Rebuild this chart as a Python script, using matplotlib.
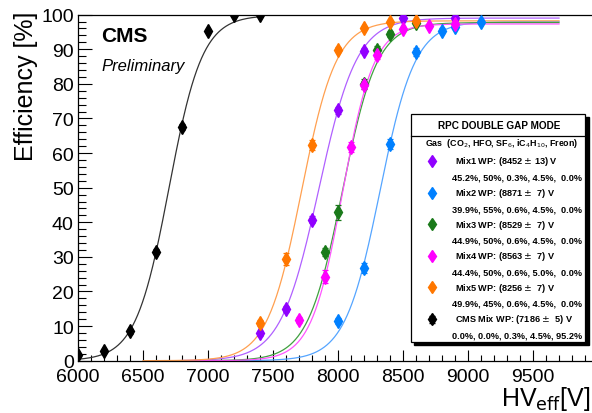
import matplotlib.pyplot as plt
from matplotlib.patches import Rectangle
import numpy as np

plt.rcParams['font.family'] = ['Liberation Sans', 'DejaVu Sans']

# measured points (HV_eff [V], efficiency [%])
hv_mix1 = [7400, 7600, 7800, 8000, 8200, 8500, 8900]
eff_mix1 = [7.9, 14.9, 40.8, 72.3, 89.6, 99.0, 99.0]
hv_mix2 = [8000, 8200, 8400, 8600, 8800, 8900, 9100]
eff_mix2 = [11.4, 26.8, 62.6, 89.1, 95.4, 96.4, 98.0]
hv_mix3 = [7900, 8000, 8200, 8300, 8400, 8600]
eff_mix3 = [31.5, 42.9, 80.0, 89.9, 94.4, 97.6]
hv_mix4 = [7700, 7900, 8100, 8200, 8300, 8500, 8700, 8900]
eff_mix4 = [11.8, 24.3, 61.7, 79.6, 88.2, 95.9, 96.8, 97.3]
hv_mix5 = [7400, 7600, 7800, 8000, 8200, 8400, 8600]
eff_mix5 = [10.9, 29.4, 62.4, 89.9, 96.2, 98.0, 98.1]
hv_cms = [6000, 6200, 6400, 6600, 6800, 7000, 7200, 7400]
eff_cms = [1.6, 2.8, 8.5, 31.5, 67.5, 95.4, 99.8, 99.8]
err_mix1 = [0.8, 0.8, 1.0, 1.0, 0.8, 0.5, 0.5]
err_mix2 = [0.8, 1.5, 1.5, 1.2, 0.8, 0.6, 0.5]
err_mix3 = [1.2, 2.2, 1.5, 1.0, 0.8, 0.5]
err_mix4 = [0.8, 1.8, 1.5, 1.2, 1.0, 0.6, 0.5, 0.5]
err_mix5 = [1.0, 1.8, 1.5, 0.8, 0.5, 0.5, 0.5]
err_cms = [0.5, 0.5, 0.8, 0.8, 0.8, 0.5, 0.3, 0.3]

# sigmoid fit parameters: eff_max, lambda, HV50, fit range
fit_emax = [99.0, 98.0, 97.7, 97.3, 98.2, 99.8]
fit_lambda = [0.0068, 0.0074, 0.0075, 0.0083, 0.0075, 0.0078]
fit_hv50 = [7852, 8323, 8033, 8035, 7720, 6700]
fit_lo = [6800, 6800, 6800, 6800, 6500, 6000]
fit_hi = [9700, 9700, 9700, 9700, 9700, 7400]

colors = ['#9000ff', '#0080ff', '#1a7a1a', '#ff00ff', '#ff7700', 'black']
line_colors = ['#b060ff', '#55a5ff', '#40a040', '#ff55ff', '#ffa050', '#333333']
names = ['Mix1 WP: (8452 $\\pm$ 13) V', 'Mix2 WP: (8871 $\\pm$  7) V',
         'Mix3 WP: (8529 $\\pm$  7) V', 'Mix4 WP: (8563 $\\pm$  7) V',
         'Mix5 WP: (8256 $\\pm$  7) V', 'CMS Mix WP: (7186 $\\pm$  5) V']
compositions = ['45.2%, 50%, 0.3%, 4.5%,  0.0%', '39.9%, 55%, 0.6%, 4.5%,  0.0%',
                '44.9%, 50%, 0.6%, 4.5%,  0.0%', '44.4%, 50%, 0.6%, 5.0%,  0.0%',
                '49.9%, 45%, 0.6%, 4.5%,  0.0%', '0.0%, 0.0%, 0.3%, 4.5%, 95.2%']

hv_all = [hv_mix1, hv_mix2, hv_mix3, hv_mix4, hv_mix5, hv_cms]
eff_all = [eff_mix1, eff_mix2, eff_mix3, eff_mix4, eff_mix5, eff_cms]
err_all = [err_mix1, err_mix2, err_mix3, err_mix4, err_mix5, err_cms]

fig = plt.figure(figsize=(5.92, 4.14), dpi=100)
ax = fig.add_axes([78/592, 0.1263, 520/592, 0.836])

for i in range(6):
    x = np.linspace(fit_lo[i], fit_hi[i], 300)
    y = fit_emax[i] / (1 + np.exp(-fit_lambda[i] * (x - fit_hv50[i])))
    ax.plot(x, y, color=line_colors[i], lw=0.9, zorder=2)
for i in range(6):
    ax.errorbar(hv_all[i], eff_all[i], yerr=err_all[i], fmt='d', color=colors[i],
                ms=7, elinewidth=0.9, capsize=2, capthick=0.9, zorder=3)

ax.set_xlim(6000, 10000)
ax.set_ylim(0, 100)
ax.set_xticks(np.arange(6000, 10001, 500))
ax.set_xticklabels(['6000', '6500', '7000', '7500', '8000', '8500', '9000', '9500', ''])
ax.set_xticks(np.arange(6000, 10001, 100), minor=True)
ax.set_yticks(np.arange(0, 101, 10))
ax.set_yticks(np.arange(0, 101, 2), minor=True)
ax.tick_params(axis='both', which='both', direction='in', labelsize=14, width=0.8)
ax.tick_params(axis='x', which='major', length=8, pad=5)
ax.tick_params(axis='x', which='minor', length=4)
ax.tick_params(axis='y', which='major', length=10, pad=3)
ax.tick_params(axis='y', which='minor', length=5.5)
ax.spines['right'].set_visible(False)
for s in ['top', 'left', 'bottom']:
    ax.spines[s].set_linewidth(0.9)

# overlay in pixel coordinates for labels and legend
ov = fig.add_axes([0, 0, 1, 1])
ov.set_xlim(0, 592)
ov.set_ylim(414, 0)
ov.axis('off')
ov.patch.set_alpha(0)

ov.text(26, 12, 'Efficiency [%]', rotation=90, ha='center', va='top', fontsize=18)
ov.text(591, 399, 'HV$_{\\mathrm{eff}}$[V]', ha='right', va='center', fontsize=18)
ov.text(101, 37, 'CMS', fontsize=15, fontweight='bold', va='center')
ov.text(101, 67, 'Preliminary', fontsize=12, style='italic', va='center')

# legend box with shadow
ov.add_patch(Rectangle((414, 118), 175, 228, color='black', zorder=4))
ov.add_patch(Rectangle((411, 115), 174, 228, facecolor='white', edgecolor='black', lw=0.9, zorder=5))
ov.plot([411, 585], [137, 137], color='black', lw=0.9, zorder=6)
ov.text(499, 126, 'RPC DOUBLE GAP MODE', ha='center', va='center', fontsize=7.2, fontweight='bold', zorder=6)
ov.text(425, 144, 'Gas  (CO$_2$, HFO, SF$_6$, iC$_4$H$_{10}$, Freon)', ha='left', va='center',
        fontsize=6.4, fontweight='bold', zorder=6)
for i in range(6):
    yy = 162 + i * 31.6
    ov.errorbar([432], [yy], yerr=[3.5], fmt='d', color=colors[i], ms=6.5,
                elinewidth=0.9, capsize=2 if i == 5 else 0, zorder=7)
    ov.text(455, yy, names[i], ha='left', va='center', fontsize=6.6, fontweight='bold', zorder=6)
    ov.text(582, yy + 16, compositions[i], ha='right', va='center', fontsize=6.6,
            fontweight='bold', zorder=6)

fig.savefig('out.png', dpi=100)
